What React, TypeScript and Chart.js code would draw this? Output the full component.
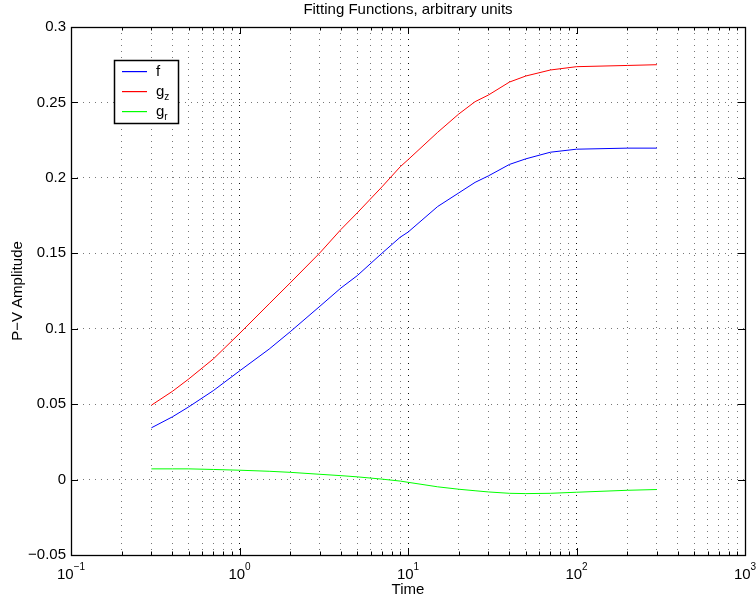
import { useEffect, useRef } from 'react';
import { Chart, registerables } from 'chart.js';

Chart.register(...registerables);

// ---- data ----
const timeValues = [0.3, 0.4, 0.5, 0.7, 1, 1.5, 2, 3, 4, 5, 7, 9, 10, 15, 20, 25, 30, 40, 50, 70, 100, 200, 300];
const fValues = [0.0343, 0.0416, 0.0482, 0.059, 0.072, 0.0865, 0.098, 0.1149, 0.127, 0.1352, 0.150, 0.1607, 0.164, 0.181, 0.190, 0.197, 0.2013, 0.2089, 0.2126, 0.217, 0.219, 0.2197, 0.2197];
const gzValues = [0.0493, 0.0585, 0.0667, 0.080, 0.0968, 0.1165, 0.1304, 0.1503, 0.1658, 0.1768, 0.194, 0.2074, 0.212, 0.2302, 0.2423, 0.2505, 0.2549, 0.2635, 0.2675, 0.2715, 0.2737, 0.2745, 0.275];
const grValues = [0.0071, 0.0071, 0.0071, 0.0067, 0.0062, 0.0055, 0.0048, 0.0035, 0.0026, 0.0018, 0.0003, -0.001, -0.0018, -0.0048, -0.0064, -0.0074, -0.0082, -0.0091, -0.0093, -0.0091, -0.0084, -0.0071, -0.0066];

const seriesNames = ['f', 'g', 'g'];
const seriesSubscripts = ['', 'z', 'r'];
const seriesColors = ['#0000ff', '#ff0000', '#00ff00'];

const xMin = 0.1;
const xMax = 1000;
const yMin = -0.05;
const yMax = 0.3;
const yStep = 0.05;
const decadeTicks = [0.1, 1, 10, 100, 1000];
const decadeExponents = ['\u22121', '0', '1', '2', '3'];

const titleText = 'Fitting Functions, arbitrary units';
const xTitle = 'Time';
const yTitle = 'P\u2212V Amplitude';

const FONT = '"Liberation Sans", Arial, Helvetica, sans-serif';

function isDecade(v: number | undefined) {
  if (v === undefined || v === null) return false;
  const l = Math.log10(v);
  return Math.abs(l - Math.round(l)) < 1e-9;
}

function allLogTicks() {
  const out: { value: number; major: boolean }[] = [];
  for (let e = -1; e < 3; e++) {
    for (let s = 1; s <= 9; s++) {
      const v = Number((s * Math.pow(10, e)).toPrecision(6));
      out.push({ value: v, major: s === 1 });
    }
  }
  out.push({ value: 1000, major: true });
  return out;
}

const matlabPlugin = {
  id: 'matlabDecor',
  afterDatasetsDraw(chart: any) {
    const { ctx, chartArea: a, scales } = chart;
    const xs = scales.x;
    const ys = scales.y;
    ctx.save();
    ctx.strokeStyle = '#000';
    ctx.lineWidth = 1;
    ctx.setLineDash([]);
    ctx.beginPath();
    xs.ticks.forEach((t: any) => {
      const px = Math.round(xs.getPixelForValue(t.value)) + 0.5;
      const len = isDecade(t.value) ? 7 : 3.5;
      ctx.moveTo(px, a.bottom);
      ctx.lineTo(px, a.bottom - len);
      ctx.moveTo(px, a.top);
      ctx.lineTo(px, a.top + len);
    });
    ys.ticks.forEach((t: any) => {
      const py = Math.round(ys.getPixelForValue(t.value)) + 0.5;
      ctx.moveTo(a.left, py);
      ctx.lineTo(a.left + 7, py);
      ctx.moveTo(a.right, py);
      ctx.lineTo(a.right - 7, py);
    });
    ctx.stroke();
    ctx.lineWidth = 1.3;
    ctx.strokeRect(Math.round(a.left) + 0.5, Math.round(a.top) + 0.5, Math.round(a.right - a.left), Math.round(a.bottom - a.top));
    ctx.restore();
  },
  afterDraw(chart: any) {
    const { ctx, chartArea: a, scales } = chart;
    const xs = scales.x;
    ctx.save();
    ctx.setLineDash([]);
    ctx.fillStyle = '#000';
    ctx.textBaseline = 'alphabetic';
    ctx.textAlign = 'left';
    // x tick labels with superscript exponents
    decadeTicks.forEach((v, i) => {
      const px = xs.getPixelForValue(v);
      ctx.font = `15px ${FONT}`;
      const w1 = ctx.measureText('10').width;
      ctx.font = `10px ${FONT}`;
      const w2 = ctx.measureText(decadeExponents[i]).width;
      const start = px - (w1 + w2) / 2;
      ctx.font = `15px ${FONT}`;
      ctx.fillText('10', start, a.bottom + 24);
      ctx.font = `10px ${FONT}`;
      ctx.fillText(decadeExponents[i], start + w1, a.bottom + 14.5);
    });

    // legend box
    const bx = 114.5, by = 60.5, bw = 64, bh = 63;
    ctx.fillStyle = '#ffffff';
    ctx.fillRect(bx, by, bw, bh);
    ctx.strokeStyle = '#000000';
    ctx.lineWidth = 1.5;
    ctx.strokeRect(bx, by, bw, bh);
    const rowY = [71, 91, 111];
    seriesNames.forEach((name, i) => {
      const y = rowY[i];
      ctx.fillStyle = seriesColors[i];
      ctx.fillRect(122, y, 25, 1.2);
      ctx.fillStyle = '#000000';
      ctx.font = `15px ${FONT}`;
      ctx.fillText(name, 156, y + 5);
      if (seriesSubscripts[i]) {
        const w = ctx.measureText(name).width;
        ctx.font = `10px ${FONT}`;
        ctx.fillText(seriesSubscripts[i], 156 + w, y + 8.5);
      }
    });
    ctx.restore();
  },
};

export default function App() {
  const ref = useRef<HTMLCanvasElement>(null);
  useEffect(() => {
    document.body.style.margin = '0';
    const canvas = ref.current;
    if (!canvas) return;
    Chart.defaults.font.family = FONT;
    Chart.defaults.color = '#000';
    const mk = (vals: number[]) => timeValues.map((t, i) => ({ x: t, y: vals[i] }));
    const chart = new Chart(canvas, {
      type: 'line',
      data: {
        datasets: [
          { label: 'f', data: mk(fValues), borderColor: seriesColors[0], backgroundColor: seriesColors[0], borderWidth: 1, pointRadius: 0, tension: 0, fill: false },
          { label: 'g_z', data: mk(gzValues), borderColor: seriesColors[1], backgroundColor: seriesColors[1], borderWidth: 1, pointRadius: 0, tension: 0, fill: false },
          { label: 'g_r', data: mk(grValues), borderColor: seriesColors[2], backgroundColor: seriesColors[2], borderWidth: 1, pointRadius: 0, tension: 0, fill: false },
        ],
      },
      options: {
        responsive: false,
        animation: false,
        events: [],
        layout: { padding: { left: 0, right: 11, top: 0, bottom: 0 } },
        plugins: {
          legend: { display: false },
          tooltip: { enabled: false },
          title: {
            display: true,
            text: titleText,
            fullSize: false,
            color: '#000',
            font: { family: FONT, size: 15, weight: 'normal' },
            padding: { top: 1, bottom: 8 },
          },
        },
        scales: {
          x: {
            type: 'logarithmic',
            min: xMin,
            max: xMax,
            afterBuildTicks: (scale: any) => {
              scale.ticks = allLogTicks();
            },
            afterFit: (scale: any) => {
              scale.height = 44;
            },
            ticks: { callback: () => '', autoSkip: false, maxRotation: 0, font: { size: 1 } },
            grid: {
              drawTicks: false,
              lineWidth: 1,
              color: (c: any) => (c.tick && isDecade(c.tick.value) ? '#111' : '#777'),
            },
            border: { display: false, dash: [1, 5] },
            title: {
              display: true,
              text: xTitle,
              color: '#000',
              font: { family: FONT, size: 15 },
              padding: { top: 0, bottom: 0 },
            },
          },
          y: {
            type: 'linear',
            min: yMin,
            max: yMax,
            afterFit: (scale: any) => {
              scale.width = 71;
            },
            ticks: {
              stepSize: yStep,
              padding: 5,
              color: '#000',
              font: { family: FONT, size: 15 },
              callback: (v: any) => {
                const n = Number(Number(v).toFixed(2));
                return n < 0 ? '\u2212' + String(-n) : String(n);
              },
            },
            grid: { drawTicks: false, lineWidth: 1, color: '#777' },
            border: { display: false, dash: [1, 5] },
            title: {
              display: true,
              text: yTitle,
              color: '#000',
              font: { family: FONT, size: 15 },
              padding: { top: 9, bottom: 0 },
            },
          },
        },
      },
      plugins: [matlabPlugin],
    } as any);
    return () => chart.destroy();
  }, []);
  return (
    <div style={{ width: 756, height: 599, position: 'relative' }}>
      <canvas ref={ref} width={756} height={599} style={{ display: 'block' }} />
    </div>
  );
}
